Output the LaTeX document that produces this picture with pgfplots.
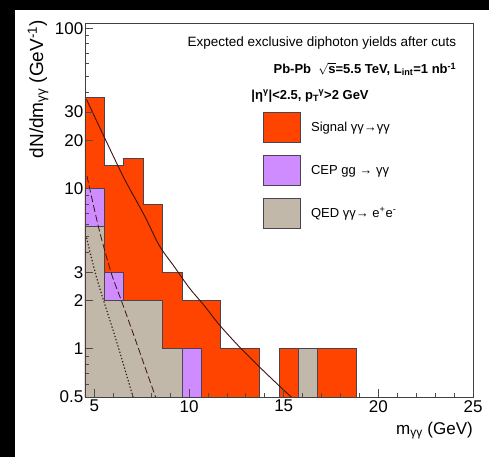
\documentclass[border=0pt]{standalone}
\usepackage{fontspec}
\setmainfont{Liberation Sans}
\usepackage{pgfplots}
\pgfplotsset{compat=1.18}
\definecolor{sigred}{RGB}{255,68,0}
\definecolor{cepviolet}{RGB}{206,140,255}
\definecolor{qedgrey}{RGB}{193,184,170}
\definecolor{edgec}{RGB}{75,68,80}
\definecolor{curvec}{RGB}{60,20,20}
\begin{document}
\begin{tikzpicture}
\fill[black] (-85pt,-60pt) rectangle (404pt,397pt);
\fill[white] (-70pt,-60pt) rectangle (404pt,387pt);
\begin{axis}[
  scale only axis, width=388pt, height=374pt,
  ymode=log, xmin=4.5, xmax=25, ymin=0.5, ymax=108,
  axis on top,
  axis line style={draw=black!75, line width=0.9pt},
  tick pos=left, tick align=inside,
  xtick={5,10,15,20,25}, xticklabels={5,10,15,20,25},
  minor xtick={6,7,8,9,11,12,13,14,16,17,18,19,21,22,23,24},
  ytick={0.5,1,2,3,10,20,30,100}, yticklabels={0.5,1,2,3,10,20,30,100},
  minor ytick={0.6,0.7,0.8,0.9,4,5,6,7,8,9,40,50,60,70,80,90},
  major tick length=8pt, minor tick length=4.5pt,
  every tick/.style={black!70, line width=0.8pt},
  /pgf/number format/assume math mode=true,
  tick label style={font=\fontsize{17}{17}\selectfont},
  yticklabel style={inner sep=1.5pt},
  xticklabel style={inner sep=3pt},
  ylabel={dN/dm\textsubscript{γγ} (GeV\textsuperscript{-1})},
  ylabel style={at={(axis description cs:-0.121,1.008)}, anchor=east, inner sep=0pt, font=\fontsize{19}{19}\selectfont},
  xlabel={m\textsubscript{γγ} (GeV)},
  xlabel style={at={(axis description cs:1,-0.066)}, anchor=north east, inner sep=0pt, font=\fontsize{17}{17}\selectfont},
  legend style={draw=none, fill=none, at={(axis description cs:0.459,0.762)}, anchor=north west,
    inner sep=0pt, row sep=12pt, font=\fontsize{13}{13}\selectfont,
    /tikz/every odd column/.append style={column sep=8pt}},
  legend cell align=left,
  legend image code/.code={\draw[#1] (0pt,-15pt) rectangle (37pt,15pt);},
]
% stacked histogram: total (signal on top)
\addplot[fill=sigred, draw=edgec, line width=0.8pt] coordinates {
 (4.5,0.5) (4.5,37) (5.525,37) (5.525,14) (6.55,14) (6.55,15.5) (7.575,15.5) (7.575,8) (8.6,8)
 (8.6,3) (9.625,3) (9.625,2) (11.675,2) (11.675,1) (13.725,1) (13.725,0.5)} --cycle;
\addlegendentry{Signal γγ→γγ}
% QED + CEP
\addplot[fill=cepviolet, draw=edgec, line width=0.8pt] coordinates {
 (4.5,0.5) (4.5,10) (5.525,10) (5.525,3) (6.55,3) (6.55,0.5)} --cycle;
\addlegendentry{CEP gg → γγ}
% QED
\addplot[fill=qedgrey, draw=edgec, line width=0.8pt] coordinates {
 (4.5,0.5) (4.5,5.8) (5.525,5.8) (5.525,2) (8.6,2) (8.6,1) (9.625,1) (9.625,0.5)} --cycle;
\addlegendentry{QED γγ→ e\textsuperscript{+}e\textsuperscript{-}}
\addplot[fill=cepviolet, draw=edgec, line width=0.8pt, forget plot] coordinates {
 (9.625,0.5) (9.625,1) (10.65,1) (10.65,0.5)} --cycle;
\addplot[fill=sigred, draw=edgec, line width=0.8pt, forget plot] coordinates {
 (14.75,0.5) (14.75,1) (18.85,1) (18.85,0.5)} --cycle;
\addplot[fill=qedgrey, draw=edgec, line width=0.8pt, forget plot] coordinates {
 (15.775,0.5) (15.775,1) (16.8,1) (16.8,0.5)} --cycle;
% curves
\addplot[curvec, line width=0.9pt, smooth, forget plot] coordinates {
 (4.58,36) (5.53,20.8) (6.58,11.5) (7.64,6.78) (8.43,4.4) (9.22,3.25) (10.01,2.4)
 (10.8,1.86) (11.6,1.41) (12.65,1.03) (13.71,0.772) (14.76,0.587) (15.55,0.48) (15.8,0.44)};
\addplot[curvec, line width=0.8pt, smooth, dash pattern=on 7pt off 3pt, forget plot] coordinates {
 (4.6,12) (5.26,5.46) (5.9,2.94) (6.42,2.0) (7.01,1.28) (7.59,0.818) (8.17,0.523) (8.32,0.47)};
\addplot[curvec, line width=1.1pt, smooth, dash pattern=on 1.3pt off 2pt, forget plot] coordinates {
 (4.58,4.94) (5.16,2.66) (6.16,1.12) (6.99,0.523) (7.11,0.47)};
% header texts
\node[anchor=east, font=\fontsize{13.5}{13.5}\selectfont] at (axis description cs:0.966,0.9465) {Expected exclusive diphoton yields after cuts};
\node[anchor=east, font=\fontsize{13}{13}\selectfont\bfseries] at (axis description cs:0.966,0.876) {Pb-Pb\ \ $\sqrt{\mbox{\bfseries s}}$=5.5 TeV, L\textsubscript{int}=1 nb\textsuperscript{-1}};
\node[anchor=west, font=\fontsize{13}{13}\selectfont\bfseries] at (axis description cs:0.42,0.805) {|η\textsuperscript{γ}|<2.5, p\textsubscript{T}\kern-0.5pt\textsuperscript{γ}>2 GeV};
\end{axis}
\pgfresetboundingbox
\useasboundingbox (-85pt,-60pt) rectangle (404pt,397pt);
\end{tikzpicture}
\end{document}
